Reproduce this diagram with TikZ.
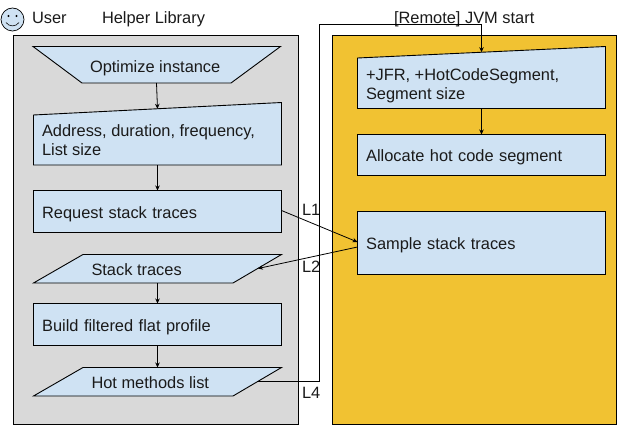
\documentclass[tikz,border=0pt]{standalone}
\usepackage{fontspec}
\setmainfont{Liberation Sans}
\definecolor{boxblue}{HTML}{CFE2F3}
\definecolor{panelgray}{HTML}{D9D9D9}
\definecolor{panelorange}{HTML}{F1C232}
\definecolor{inktext}{HTML}{1A1A1A}
\usetikzlibrary{arrows.meta}
\tikzset{
  every node/.style={font=\fontsize{16.4}{19}\selectfont, text=inktext},
  panel/.style={draw=black, line width=0.9pt, rectangle, inner sep=0pt, outer sep=0pt, anchor=north west},
  flowbox/.style={draw=black, fill=boxblue, line width=0.9pt, rectangle, anchor=west, inner xsep=8.6pt, inner ysep=0pt, outer sep=0pt,
    minimum width=248pt, text width=230.8pt, align=left, text height=13.6pt, text depth=0pt},
  flowshape/.style={draw=black, fill=boxblue, line width=0.9pt, line join=miter},
  plain/.style={inner sep=0pt, outer sep=0pt, anchor=base west},
  flow/.style={draw=black, line width=0.8pt, -{Stealth[length=5pt,width=4.5pt]}},
  wire/.style={draw=black, line width=0.8pt}
}
\begin{document}
\begin{tikzpicture}[x=1pt,y=-1pt]
\useasboundingbox (0,0) rectangle (623,425);
\fill[white] (0,0) rectangle (623,425);
% panels
\node[panel, fill=panelgray, minimum width=285pt, minimum height=389pt] (helper) at (13.5,35.5) {};
\node[panel, fill=panelorange, minimum width=283.5pt, minimum height=389pt] (jvm) at (332.5,35.5) {};
% smiley
\draw[draw=black, fill=boxblue, line width=0.7pt] (12.5,19.5) circle[radius=11.5];
\fill[black] (8.5,16) circle[radius=1.1] (16.5,16) circle[radius=1.1];
\draw[black, line width=0.6pt] (6,22.5) .. controls (9,27) and (16,27) .. (19,22.5);
% titles
\node[plain] (user) at (32,23.5) {User};
\node[plain] (helib) at (102,23.5) {Helper Library};
% left column shapes
\draw[flowshape] (33,46.5) -- (280.5,46.5) -- (231,83) -- (82,83) -- cycle;
\coordinate (optout) at (156.5,83);
\node[plain] (opt) at (90,72.3) {Optimize instance};
\draw[flowshape] (33.5,115) -- (281.5,102.5) -- (281.5,165) -- (33.5,165) -- cycle;
\coordinate (addrin) at (157.5,108.8);
\coordinate (addrout) at (157.5,165);
\node[plain] (addr1) at (42,136.8) {Address, duration, frequency,};
\node[plain] (addr2) at (42,155.8) {List size};
\node[flowbox, minimum height=42pt] (req) at (33.5,211.5) {Request stack traces};
\draw[flowshape] (83,254.5) -- (281.5,254.5) -- (233,283) -- (33.5,283) -- cycle;
\coordinate (stin) at (258,268.5);
\coordinate (stout) at (157.5,283);
\node[plain] (st) at (91.5,275.5) {Stack traces};
\node[flowbox, minimum height=42pt] (build) at (33.5,324.5) {Build filtered flat profile};
\draw[flowshape] (83,367.5) -- (281.5,367.5) -- (233,396) -- (33.5,396) -- cycle;
\coordinate (hotin) at (157.5,367.5);
\coordinate (hotout) at (258,381.5);
\node[plain] (hot) at (91.5,388.4) {Hot methods list};
% right column shapes
\draw[flowshape] (357.5,58) -- (605.5,46.5) -- (605.5,108.5) -- (357.5,108.5) -- cycle;
\coordinate (jfrin) at (481.5,52.2);
\coordinate (jfrout) at (481.5,108.5);
\node[plain] (jfr1) at (366,80.8) {+JFR, +HotCodeSegment,};
\node[plain] (jfr2) at (366,99.8) {Segment size};
\node[flowbox, minimum height=40.5pt] (alloc) at (357.5,154.75) {Allocate hot code segment};
\node[flowbox, minimum height=62.5pt] (sample) at (357.5,242.75) {Sample stack traces};
% connector labels
\node[plain] (remote) at (394,23.5) {[Remote] JVM start};
\node[plain] (l1) at (302,215.3) {L1};
\node[plain] (l2) at (302,272.4) {L2};
\node[plain] (l4) at (302,398.8) {L4};
% connectors
\coordinate (c1) at (319.5,381.5);
\coordinate (c2) at (319.5,24.5);
\coordinate (c3) at (481.5,24.5);
\coordinate (reqout) at (281.5,210.5);
\coordinate (samplein) at (357.5,242);
\coordinate (sampleout) at (357.5,247);
\draw[flow] (optout) -- (addrin);
\draw[flow] (addrout) -- (addrout |- req.north);
\draw[flow] (stout) -- (stout |- build.north);
\draw[flow] (stout |- build.south) -- (hotin);
\draw[flow] (reqout) -- (samplein);
\draw[flow] (sampleout) -- (stin);
\draw[flow] (hotout) -- (c1) -- (c2) -- (c3) -- (jfrin);
\draw[flow] (jfrout) -- (jfrout |- alloc.north);
\end{tikzpicture}
\end{document}
